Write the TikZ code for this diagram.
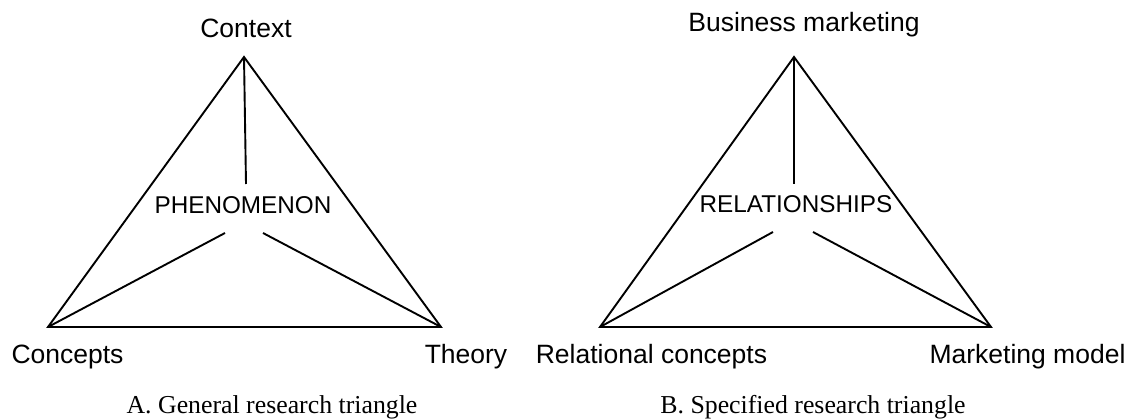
\documentclass[tikz,border=0pt]{standalone}
\usepackage{fontspec}
\setmainfont{Liberation Serif}
\newfontfamily\labelfont{Liberation Sans}
\begin{document}
\begin{tikzpicture}[x=1pt,y=-1pt,
  edge/.style={line width=1.9pt, line join=miter},
  lbl/.style={font=\labelfont\fontsize{26.5}{30}\selectfont, inner sep=0pt, anchor=base},
  inner/.style={font=\labelfont\fontsize{24.3}{28}\selectfont, inner sep=0pt, anchor=base},
  capt/.style={font=\fontsize{25.8}{30}\selectfont, inner sep=0pt, anchor=base}]
\useasboundingbox (0,0) rectangle (1136,420);
% Triangle A
\coordinate (A1) at (244,57);
\coordinate (A2) at (48,327);
\coordinate (A3) at (441,327);
\coordinate (Av) at (246,184);
\coordinate (Al) at (225,233);
\coordinate (Ar) at (263,233);
\draw[edge] (A1) -- (A2) -- (A3) -- cycle;
\draw[edge] (A1) -- (Av);
\draw[edge] (Al) -- (A2);
\draw[edge] (Ar) -- (A3);
\node[lbl] (ctx) at (246,38) {Context};
\node[inner] (phen) at (243,213) {PHENOMENON};
\node[lbl] (conc) at (67.5,363) {Concepts};
\node[lbl] (theo) at (466,363) {Theory};
\node[capt] (capA) at (272,413) {A. General research triangle};
% Triangle B
\coordinate (B1) at (794,57);
\coordinate (B2) at (600,327);
\coordinate (B3) at (991,327);
\coordinate (Bv) at (794,184);
\coordinate (Bl) at (773,232);
\coordinate (Br) at (813,232);
\draw[edge] (B1) -- (B2) -- (B3) -- cycle;
\draw[edge] (B1) -- (Bv);
\draw[edge] (Bl) -- (B2);
\draw[edge] (Br) -- (B3);
\node[lbl] (bm) at (804,32) {Business marketing};
\node[inner] (rel) at (796,212) {RELATIONSHIPS};
\node[lbl] (rc) at (651.5,363) {Relational concepts};
\node[lbl] (mm) at (1027.5,363) {Marketing model};
\node[capt] (capB) at (813,413) {B. Specified research triangle};
\end{tikzpicture}
\end{document}
